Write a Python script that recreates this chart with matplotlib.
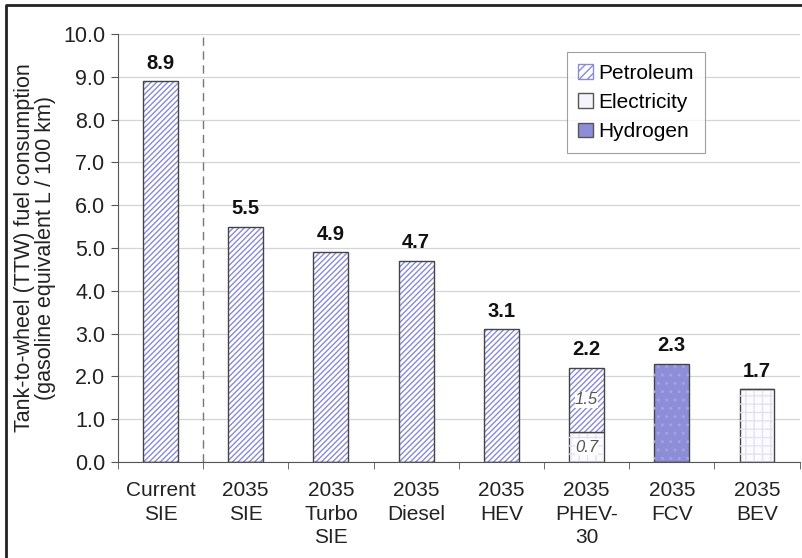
import matplotlib.pyplot as plt
from matplotlib.patches import Rectangle
from matplotlib.lines import Line2D
import numpy as np

plt.rcParams['font.family'] = ['Liberation Sans', 'DejaVu Sans']
plt.rcParams['hatch.linewidth'] = 1.0

categories = ['Current\nSIE', '2035\nSIE', '2035\nTurbo\nSIE', '2035\nDiesel',
              '2035\nHEV', '2035\nPHEV-\n30', '2035\nFCV', '2035\nBEV']
petroleum = [8.9, 5.5, 4.9, 4.7, 3.1, 1.5, 0.0, 0.0]
electricity = [0.0, 0.0, 0.0, 0.0, 0.0, 0.7, 0.0, 1.7]
hydrogen = [0.0, 0.0, 0.0, 0.0, 0.0, 0.0, 2.3, 0.0]
totals = [8.9, 5.5, 4.9, 4.7, 3.1, 2.2, 2.3, 1.7]

fig = plt.figure(figsize=(8.02, 5.58), dpi=100)
ax = fig.add_axes([0.147, 0.172, 0.85, 0.767])

x = np.arange(len(categories))
w = 0.41
edge = '#444444'
hatch_col = '#8a8ad8'

elec = np.array(electricity)
pet = np.array(petroleum)
hyd = np.array(hydrogen)

ax.bar(x, elec, w, color='#fcfcff', edgecolor=edge, linewidth=1.0, zorder=3)
ax.bar(x, elec, w, color='none', edgecolor='#e2e2f2', hatch='++', linewidth=0, zorder=3)
ax.bar(x, pet, w, bottom=elec, color='white', edgecolor=hatch_col, hatch='//////', linewidth=0, zorder=3)
ax.bar(x, pet, w, bottom=elec, color='none', edgecolor=edge, linewidth=1.0, zorder=4)
ax.bar(x, hyd, w, color='#8e8ed8', edgecolor=edge, linewidth=1.0, zorder=3)
ax.bar(x, hyd, w, color='none', edgecolor='#a2a2e2', hatch='..', linewidth=0, zorder=3)

for xi, t in zip(x, totals):
    ax.text(xi, t + 0.2, f'{t:.1f}', ha='center', va='bottom', fontsize=14.5,
            fontweight='bold', color='#111111')

ax.text(x[5], elec[5] / 2, '0.7', ha='center', va='center', fontsize=12,
        style='italic', color='#555555', zorder=5,
        bbox=dict(facecolor='white', edgecolor='none', pad=0.3))
ax.text(x[5], elec[5] + pet[5] / 2, '1.5', ha='center', va='center', fontsize=12,
        style='italic', color='#555555', zorder=5,
        bbox=dict(facecolor='white', edgecolor='none', pad=0.3))

ax.axvline(0.5, color='#777777', linestyle=(0, (6, 4)), linewidth=1.0, zorder=2)

ax.set_xlim(-0.5, len(categories) - 0.5)
ax.set_ylim(0, 10)
ax.set_yticks(np.arange(0, 10.01, 1.0))
ax.set_yticklabels([f'{v:.1f}' for v in np.arange(0, 10.01, 1.0)], fontsize=15.5, color='#222222')
ax.set_xticks(x)
ax.set_xticklabels(categories, fontsize=15, color='#222222', linespacing=1.3)
ax.set_xticks(np.arange(-0.5, len(categories)), minor=True)
ax.tick_params(axis='x', which='major', length=0, pad=14)
ax.tick_params(axis='x', which='minor', length=5, direction='out', color='#555555')
ax.tick_params(axis='y', length=5, color='#555555', pad=4)
ax.yaxis.grid(True, color='#d4d4d4', linewidth=0.9, zorder=0)
ax.set_axisbelow(True)
for s in ['top', 'right']:
    ax.spines[s].set_visible(False)
ax.spines['left'].set_color('#555555')
ax.spines['bottom'].set_color('#555555')

ax.set_ylabel('Tank-to-wheel (TTW) fuel consumption\n(gasoline equivalent L / 100 km)',
              fontsize=15.5, color='#222222', labelpad=5, linespacing=1.05)

handles = [
    Rectangle((0, 0), 1, 1, facecolor='white', edgecolor=hatch_col, hatch='////'),
    Rectangle((0, 0), 1, 1, facecolor='#f4f4fa', edgecolor='#555555'),
    Rectangle((0, 0), 1, 1, facecolor='#8e8ed8', edgecolor='#555555'),
]
leg = ax.legend(handles, ['Petroleum', 'Electricity', 'Hydrogen'],
                loc='upper left', bbox_to_anchor=(0.643, 0.982), fontsize=15,
                frameon=True, fancybox=False, edgecolor='#888888',
                handlelength=0.7, handleheight=0.7, handletextpad=0.25,
                labelspacing=0.5, borderpad=0.55)
leg.get_frame().set_linewidth(0.8)

fig.lines.append(Line2D([0.008, 0.008, 1.0], [0.0, 0.991, 0.991], transform=fig.transFigure,
                        color='#222222', linewidth=2))

fig.savefig('out.png', dpi=100)
